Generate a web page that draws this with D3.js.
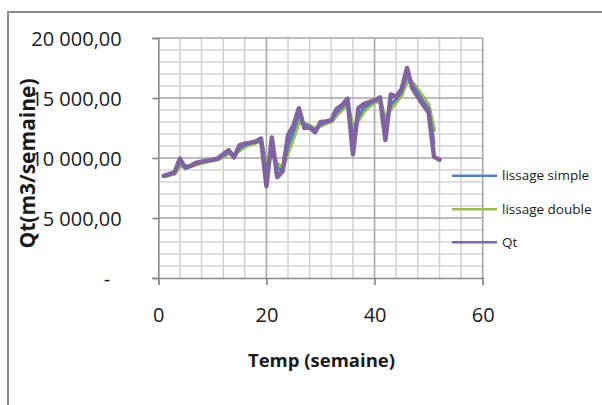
<!DOCTYPE html>
<html>
<head>
<meta charset="utf-8">
<script src="https://cdn.jsdelivr.net/npm/d3@7"></script>
<style>
  html, body { margin: 0; padding: 0; background: #fff; }
  svg { display: block; }
  text { font-family: "Open Sans", "Noto Sans", sans-serif; fill: #1a1a1a; }
</style>
</head>
<body>
<svg id="chart" width="602" height="405"></svg>
<script>
// Weekly volumes (m3/semaine) and their smoothed series
const weeks = [1,2,3,4,5,6,7,8,9,10,11,12,13,14,15,16,17,18,19,20,21,22,23,24,25,26,
               27,28,29,30,31,32,33,34,35,36,37,38,39,40,41,42,43,44,45,46,47,48,49,50,51,52];

const qt = [8500,8650,8800,9950,9180,9350,9600,9700,9780,9850,
            9970,10300,10650,10050,11050,11200,11280,11380,11620,7650,
            11700,8400,8900,11900,12700,14150,12500,12550,12150,13000,
            13050,13150,14100,14400,14950,10300,14150,14500,14650,14800,
            15050,11500,15300,15100,15750,17500,15800,15100,14400,13800,
            10100,9850];

const lissageSimple = [8500,8610,8740,9590,9300,9340,9520,9650,9740,9820,
                       9920,10190,10510,10190,10790,11080,11220,11330,11530,8820,
                       10840,9130,8970,11020,12200,13560,12820,12630,12290,12790,
                       12970,13100,13800,14220,14730,11630,13390,14170,14500,14710,
                       14950,12540,14470,14910,15500,16900,16130,15410,14700,14070,
                       11300];

const lissageDouble = [8500,8570,8690,9320,9310,9330,9460,9590,9700,9780,
                       9880,10100,10390,10250,10630,10940,11140,11270,11460,9610,
                       10470,9530,9140,10460,11670,13000,12870,12700,12420,12680,
                       12880,13030,13570,14030,14520,12500,13130,13860,14310,14590,
                       14840,13230,14100,14670,15250,16400,16300,15700,15050,14400,
                       12320];

const seriesNames = ["lissage simple", "lissage double", "Qt"];
const seriesColors = ["#4f81bd", "#9bbb59", "#8064a2"];

const xTicks = [0, 20, 40, 60];
const yTicks = [0, 5000, 10000, 15000, 20000];

const svg = d3.select("#chart");

// outer chart frame
svg.append("rect")
  .attr("x", 8).attr("y", 12).attr("width", 620).attr("height", 420)
  .attr("fill", "#fff").attr("stroke", "#8c8c8c").attr("stroke-width", 2);

const x = d3.scaleLinear().domain([0, 60]).range([158.3, 482.7]);
const y = d3.scaleLinear().domain([0, 20000]).range([278, 38]);

// number format: "20 000,00", zero shown as "-"
const fr = d3.formatLocale({ decimal: ",", thousands: " ", grouping: [3], currency: ["", ""] });
const fmt = fr.format(",.2f");

// gridlines: minor first, major on top
const grid = svg.append("g");
const xMinor = d3.range(4, 60, 4).filter(v => v % 20 !== 0);
const yMinor = d3.range(1000, 20000, 1000).filter(v => v % 5000 !== 0);
grid.selectAll(".vmin").data(xMinor).join("line")
  .attr("x1", d => x(d)).attr("x2", d => x(d))
  .attr("y1", y(0)).attr("y2", y(20000))
  .attr("stroke", "#d3d3d3").attr("stroke-width", 1.6);
grid.selectAll(".hmin").data(yMinor).join("line")
  .attr("x1", x(0)).attr("x2", x(60))
  .attr("y1", d => y(d)).attr("y2", d => y(d))
  .attr("stroke", "#d3d3d3").attr("stroke-width", 1.6);
grid.selectAll(".vmaj").data([20, 40, 60]).join("line")
  .attr("x1", d => x(d)).attr("x2", d => x(d))
  .attr("y1", y(0)).attr("y2", y(20000))
  .attr("stroke", "#a6a6a6").attr("stroke-width", 1.6);
grid.selectAll(".hmaj").data([5000, 10000, 15000, 20000]).join("line")
  .attr("x1", x(0)).attr("x2", x(60))
  .attr("y1", d => y(d)).attr("y2", d => y(d))
  .attr("stroke", "#a6a6a6").attr("stroke-width", 1.6);

// y axis
const yAxis = svg.append("g")
  .attr("transform", `translate(${x(0)},0)`)
  .call(d3.axisLeft(y).tickValues(yTicks).tickSize(6).tickPadding(30.6)
    .tickFormat(d => d === 0 ? "-" : fmt(d)));
yAxis.select(".domain").attr("stroke", "#868686").attr("stroke-width", 1.6);
yAxis.selectAll(".tick line").attr("stroke", "#868686").attr("stroke-width", 1.6);
yAxis.selectAll(".tick text")
  .attr("font-size", 20).attr("dy", "0.35em").attr("fill", "#1a1a1a")
  .attr("font-family", "Open Sans")
  .attr("x", d => d === 0 ? -48 : -36.6);

// x axis
const xAxis = svg.append("g")
  .attr("transform", `translate(0,${y(0)})`)
  .call(d3.axisBottom(x).tickValues(xTicks).tickSize(7).tickPadding(23));
xAxis.select(".domain").attr("stroke", "#868686").attr("stroke-width", 1.6);
xAxis.selectAll(".tick line").attr("stroke", "#868686").attr("stroke-width", 1.6);
xAxis.selectAll(".tick text")
  .attr("font-size", 20).attr("fill", "#1a1a1a").attr("font-family", "Open Sans");

// axis titles
svg.append("text")
  .attr("x", 321.5).attr("y", 367)
  .attr("text-anchor", "middle")
  .attr("font-size", 18.5).attr("font-weight", "bold")
  .text("Temp (semaine)");

svg.append("text")
  .attr("transform", "translate(35,163.5) rotate(-90)")
  .attr("text-anchor", "middle")
  .attr("font-size", 21).attr("font-weight", "bold")
  .text("Qt(m3/semaine)");

// series
const line = d3.line().x((d, i) => x(weeks[i])).y(d => y(d));
const plot = svg.append("g").attr("fill", "none")
  .attr("stroke-linejoin", "round").attr("stroke-linecap", "round");
plot.append("path").attr("d", line(lissageDouble))
  .attr("stroke", seriesColors[1]).attr("stroke-width", 4);
plot.append("path").attr("d", line(lissageSimple))
  .attr("stroke", seriesColors[0]).attr("stroke-width", 3);
plot.append("path").attr("d", line(qt))
  .attr("stroke", seriesColors[2]).attr("stroke-width", 4.5);

// legend
const legY = [175.7, 209.3, 242.3];
const leg = svg.append("g");
seriesNames.forEach((name, i) => {
  leg.append("line")
    .attr("x1", 452).attr("x2", 497)
    .attr("y1", legY[i]).attr("y2", legY[i])
    .attr("stroke", seriesColors[i]).attr("stroke-width", 2.5);
  leg.append("text")
    .attr("x", 502).attr("y", legY[i]).attr("dy", "0.33em")
    .attr("font-size", 13.5).attr("fill", "#1a1a1a")
    .text(name);
});
</script>
</body>
</html>
